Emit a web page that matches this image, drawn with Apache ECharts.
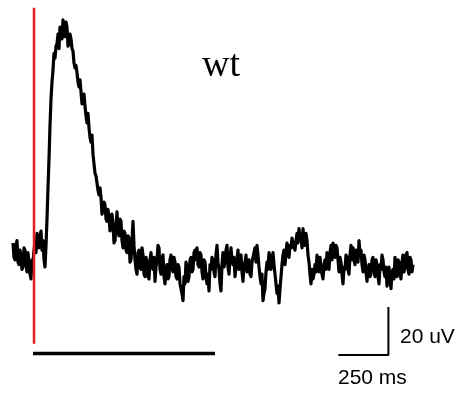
<!DOCTYPE html>
<html>
<head>
<meta charset="utf-8">
<script src="https://cdn.jsdelivr.net/npm/echarts@6/dist/echarts.min.js"></script>
<style>
  html, body { margin: 0; padding: 0; background: #fff; }
  #chart { width: 466px; height: 393px; }
</style>
</head>
<body>
<div id="chart"></div>
<script>
// sampled trace: first sample time (ms) and sample step (ms)
const T0 = -105;
const DT = 5;
// amplitude in uV, one value per sample
const TRACE_UV = [
  5, -1, -2, 4, 6, -3, -4, 2, 0, -6, -5, 3, 2, -4, -7, 1, -3, -8, -10, -2,
  -3, 2, 5, 1, 9, 4, 3, 8, 10, 2, 6, -2, -5, 4, 15, 28, 40, 54, 65, 72,
  77, 84, 82, 87, 88, 92, 86, 95, 94, 90, 98, 93, 91, 97, 95, 87, 88, 92, 90, 86,
  85, 80, 78, 79, 76, 72, 70, 73, 68, 63, 64, 67, 62, 58, 55, 59, 53, 49, 47, 50,
  42, 38, 34, 33, 30, 27, 25, 28, 24, 17, 19, 22, 21, 15, 14, 19, 16, 10, 11, 17,
  13, 5, 6, 12, 18, 10, 8, 15, 14, 6, 3, 10, 9, 2, 1, 8, 7, -3, -2, 6,
  14, 4, -2, -6, -8, 1, 2, -5, -6, 3, 0, -8, -9, -1, -3, -9, -10, -2, 1, -4,
  -6, -1, -11, -5, -2, 4, 3, -6, -8, -1, 0, -9, -12, -6, -4, -10, -9, -2, 0, -5,
  -7, -1, -3, -9, -10, -4, -5, -12, -14, -16, -19, -9, -12, -3, -5, -11, -9, -2, -1, -7,
  -6, 1, 2, -2, 3, -4, -5, 1, 0, -7, -10, -2, -3, -9, -12, -8, -15, -4, -6, -1,
  -2, -7, -9, 0, 4, -3, -6, -12, -15, -4, 1, -5, -3, 2, 4, -5, -8, -1, 3, -2,
  -4, -1, -9, -5, -2, 2, -6, -1, 0, -7, -11, -4, -3, 0, -7, -3, -2, -8, -9, -3,
  -1, 1, 3, -3, 4, 0, -5, -9, -12, -8, -19, -16, -14, -7, -3, -6, 1, -1, -6, -2,
  1, -4, -8, -12, -16, -13, -20, -14, -9, -4, 0, 2, -4, 1, 5, 0, -1, 4, 3, 7,
  7, 3, 2, 6, 9, 5, 11, 7, 8, 3, 11, 6, 4, 9, 6, 0, -3, -8, -12, -6,
  -10, -8, -4, -7, 0, -3, -7, -1, -5, -8, -10, -4, -2, -6, 1, -3, -6, 1, 4, -2,
  5, 0, -1, 4, 3, -2, -7, -1, -3, -8, -12, -5, -6, 0, -1, -6, -8, 0, 4, -2,
  3, -2, -4, 2, 1, -3, 6, 1, 2, -4, -7, 0, -2, -7, -11, -6, -4, -9, -8, -2,
  -1, -6, -9, -2, -4, -9, -12, -4, -6, 0, -2, -7, -9, -5, -13, -8, -5, -11, -14, -7,
  -6, -10, -1, -6, -9, -2, -3, -8, -10, -3, 0, -7, -5, 0, 1, -6, -8, -1, -2, -7,
  -4
];

// stimulus marker (ms) and its vertical extent (uV)
const STIM_T = 0;
const STIM_RANGE = [103, -37];
// stimulus duration bar (ms) drawn at BAR_Y (uV)
const BAR_T = [-5, 905];
const BAR_Y = -41;
// scale bar: 250 ms by 20 uV
const SCALE_MS = 250;
const SCALE_UV = 20;
const SCALE_CORNER = [1772, -41.7];

const traceData = TRACE_UV.map((v, i) => [T0 + i * DT, v]);

const chart = echarts.init(document.getElementById("chart"), null, { renderer: "canvas" });

chart.setOption({
  animation: false,
  backgroundColor: "#fff",
  grid: { left: 0, right: 0, top: 0, bottom: 0 },
  xAxis: { type: "value", min: -170, max: 2160, show: false },
  yAxis: { type: "value", min: -57.5, max: 106.25, show: false },
  graphic: [
    {
      type: "text", x: 202, y: 66,
      style: { text: "wt", fill: "#000", font: '38px "Liberation Serif"', verticalAlign: "middle" },
    },
    {
      type: "text", x: 400, y: 337,
      style: { text: "20 uV", fill: "#000", font: '21px "Liberation Sans"', verticalAlign: "middle" },
    },
    {
      type: "text", x: 338, y: 378,
      style: { text: "250 ms", fill: "#000", font: '21px "Liberation Sans"', verticalAlign: "middle" },
    },
  ],
  series: [
    {
      name: "trace", type: "line", data: traceData, showSymbol: false,
      lineStyle: { color: "#000", width: 3.2, join: "round" }, z: 2,
    },
    {
      name: "stimulus", type: "line", showSymbol: false,
      data: [[STIM_T, STIM_RANGE[0]], [STIM_T, STIM_RANGE[1]]],
      lineStyle: { color: "#e41e1e", width: 2.5 }, z: 3,
    },
    {
      name: "bar", type: "line", showSymbol: false,
      data: [[BAR_T[0], BAR_Y], [BAR_T[1], BAR_Y]],
      lineStyle: { color: "#000", width: 3.5 }, z: 3,
    },
    {
      name: "scale", type: "line", showSymbol: false,
      data: [
        [SCALE_CORNER[0] - SCALE_MS, SCALE_CORNER[1]],
        [SCALE_CORNER[0], SCALE_CORNER[1]],
        [SCALE_CORNER[0], SCALE_CORNER[1] + SCALE_UV],
      ],
      lineStyle: { color: "#000", width: 2 }, z: 3,
    },
  ],
});
</script>
</body>
</html>
